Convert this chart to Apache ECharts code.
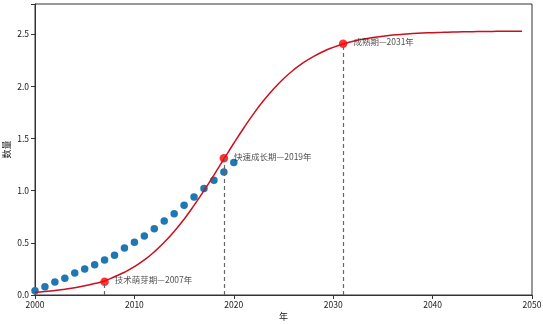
<!DOCTYPE html>
<html>
<head>
<meta charset="utf-8">
<script src="https://cdn.jsdelivr.net/npm/echarts@6/dist/echarts.min.js"></script>
<style>html,body{margin:0;padding:0;background:#fff}#c{width:543px;height:324px}</style>
</head>
<body>
<div id="c"></div>
<script>
// observed data (blue points)
const scatterYears = [2000,2001,2002,2003,2004,2005,2006,2007,2008,2009,2010,2011,2012,2013,2014,2015,2016,2017,2018,2019,2020];
const scatterValues = [0.04,0.08,0.125,0.16,0.21,0.25,0.29,0.335,0.38,0.45,0.505,0.565,0.635,0.71,0.78,0.86,0.94,1.02,1.10,1.18,1.27];

// fitted curve (red line) read yearly
const curveYears = [2000,2001,2002,2003,2004,2005,2006,2007,2008,2009,2010,2011,2012,2013,2014,2015,2016,2017,2018,2019,2020,2021,2022,2023,2024,2025,2026,2027,2028,2029,2030,2031,2032,2033,2034,2035,2036,2037,2038,2039,2040,2041,2042,2043,2044,2045,2046,2047,2048,2049];
const curveValues = [0.027,0.034,0.043,0.055,0.069,0.088,0.11,0.135,0.175,0.218,0.271,0.336,0.414,0.505,0.609,0.727,0.859,1.001,1.15,1.303,1.455,1.601,1.739,1.864,1.975,2.073,2.157,2.228,2.286,2.335,2.374,2.406,2.432,2.452,2.468,2.481,2.492,2.5,2.506,2.511,2.515,2.518,2.521,2.523,2.525,2.526,2.527,2.528,2.528,2.529];

// milestones
const milestoneYears = [2007, 2019, 2031];
const milestoneValues = [0.128, 1.31, 2.41];
const milestoneLabels = ['技术萌芽期—2007年', '快速成长期—2019年', '成熟期—2031年'];

// axis ticks
const xTicks = [2000, 2010, 2020, 2030, 2040, 2050];
const yTicks = [0.0, 0.5, 1.0, 1.5, 2.0, 2.5];
const xAxisName = '年';
const yAxisName = '数量';

const FONT = "'Noto Sans CJK SC', 'DejaVu Sans', sans-serif";
const chart = echarts.init(document.getElementById('c'), null, {renderer: 'canvas'});

chart.setOption({
  animation: false,
  backgroundColor: '#fff',
  textStyle: {fontFamily: FONT},
  grid: {left: 35, right: 11, top: 4, bottom: 29, containLabel: false, outerBoundsMode: 'none',
    show: true, borderColor: '#333', borderWidth: 1, backgroundColor: 'transparent'},
  xAxis: {
    type: 'value', min: xTicks[0], max: xTicks[xTicks.length - 1], interval: 10,
    name: xAxisName, nameLocation: 'middle', nameGap: 17, nameMoveOverlap: false,
    nameTextStyle: {fontSize: 9, color: '#222', fontFamily: FONT},
    axisLine: {show: true, lineStyle: {color: '#333', width: 1}},
    axisTick: {show: true, length: 4, lineStyle: {color: '#333'}},
    axisLabel: {fontSize: 8.5, color: '#222', margin: 6, fontFamily: FONT, formatter: v => String(v)},
    splitLine: {show: false}
  },
  yAxis: {
    type: 'value', min: 0, max: 2.79, interval: 0.5,
    name: yAxisName, nameLocation: 'middle', nameGap: 24, nameRotate: 90, nameMoveOverlap: false,
    nameTextStyle: {fontSize: 9, color: '#222', fontFamily: FONT},
    axisLine: {show: true, lineStyle: {color: '#333', width: 1}},
    axisTick: {show: true, length: 4, lineStyle: {color: '#333'}},
    axisLabel: {fontSize: 8.5, color: '#222', margin: 6, fontFamily: FONT,
      formatter: v => (yTicks.some(t => Math.abs(t - v) < 1e-6) ? v.toFixed(1) : '')},
    splitLine: {show: false}
  },
  series: [
    {
      type: 'scatter', name: 'obs',
      data: scatterYears.map((y, i) => [y, scatterValues[i]]),
      symbolSize: 7.5,
      itemStyle: {color: '#1f77b4', opacity: 1},
      z: 2
    },
    {
      type: 'line', name: 'fit',
      data: curveYears.map((y, i) => [y, curveValues[i]]),
      smooth: true, showSymbol: false,
      lineStyle: {color: '#cc0f1c', width: 1.5},
      z: 3
    },
    {
      type: 'scatter', name: 'milestones',
      data: milestoneYears.map((y, i) => ({value: [y, milestoneValues[i]], label: {formatter: milestoneLabels[i]}})),
      symbolSize: 8.5,
      itemStyle: {color: '#ff0000'},
      label: {show: true, position: 'right', distance: 6, offset: [0, -2], fontSize: 8.5, color: '#222', fontFamily: FONT},
      markLine: {
        silent: true, symbol: ['none', 'none'], animation: false,
        label: {show: false},
        lineStyle: {color: '#666', type: [4, 3], width: 1.2},
        data: milestoneYears.map((y, i) => [{coord: [y, 0]}, {coord: [y, milestoneValues[i]]}])
      },
      z: 4
    }
  ]
});
</script>
</body>
</html>
